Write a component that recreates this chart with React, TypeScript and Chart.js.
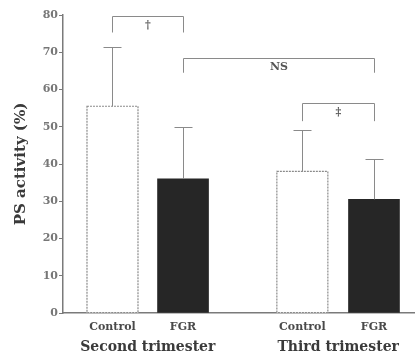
import React, { useEffect, useRef } from "react";
import { Chart, registerables } from "chart.js";

Chart.register(...registerables);

// ---- data ----
const categories = ["Control", "FGR", "Control", "FGR"];
const groups = ["Second trimester", "Third trimester"];
const means = [55.5, 36, 38, 30.5];
const sdUpper = [15.9, 14, 11.1, 10.8];
const yTickValues = [0, 10, 20, 30, 40, 50, 60, 70, 80];
// brackets: bar index from, to, top value, leg-end value, label
const bracketFrom = [0, 1, 2];
const bracketTo = [1, 3, 3];
const bracketTop = [79.6, 68.5, 56.5];
const bracketLegEnd = [75.3, 64.5, 51.5];
const bracketLabels = ["\u2020", "NS", "\u2021"];

// ---- layout (not data) ----
const barCenters = [1.406, 3.41, 6.8, 8.835];
const groupMembers = [[0, 1], [2, 3]];
const FONT = "'DejaVu Serif', serif";

const annotPlugin = {
  id: "annot",
  afterDatasetsDraw(chart: any) {
    const ctx = chart.ctx;
    const xs = chart.scales.x;
    const ys = chart.scales.y;
    const meta = chart.getDatasetMeta(0);
    ctx.save();
    // dashed borders on control bars
    meta.data.forEach((el: any, i: number) => {
      if (categories[i] !== "Control") return;
      const w = el.width;
      ctx.strokeStyle = "#8a8a8a";
      ctx.lineWidth = 1.2;
      ctx.setLineDash([2, 1]);
      ctx.strokeRect(el.x - w / 2, el.y, w, el.base - el.y);
    });
    ctx.setLineDash([]);
    // error bars
    ctx.strokeStyle = "#8a8a8a";
    ctx.lineWidth = 1;
    means.forEach((m, i) => {
      const px = Math.round(xs.getPixelForValue(barCenters[i])) + 0.5;
      const top = Math.round(ys.getPixelForValue(m + sdUpper[i])) + 0.5;
      const bot = ys.getPixelForValue(m);
      ctx.beginPath();
      ctx.moveTo(px, bot);
      ctx.lineTo(px, top);
      ctx.moveTo(px - 9, top);
      ctx.lineTo(px + 9, top);
      ctx.stroke();
    });
    // brackets
    bracketFrom.forEach((f, k) => {
      const x1 = Math.round(xs.getPixelForValue(barCenters[f])) + 0.5;
      const x2 = Math.round(xs.getPixelForValue(barCenters[bracketTo[k]])) + 0.5;
      const yt = Math.round(ys.getPixelForValue(bracketTop[k])) + 0.5;
      const yl = ys.getPixelForValue(bracketLegEnd[k]);
      ctx.strokeStyle = "#8a8a8a";
      ctx.lineWidth = 1;
      ctx.beginPath();
      ctx.moveTo(x1, yl);
      ctx.lineTo(x1, yt);
      ctx.lineTo(x2, yt);
      ctx.lineTo(x2, yl);
      ctx.stroke();
      ctx.fillStyle = "#555";
      ctx.font = "bold 11px " + FONT;
      ctx.textAlign = "center";
      ctx.textBaseline = "top";
      ctx.fillText(bracketLabels[k], (x1 + x2) / 2, yt + 3);
    });
    // group labels
    ctx.fillStyle = "#3a3a3a";
    ctx.font = "bold 14px " + FONT;
    ctx.textAlign = "center";
    ctx.textBaseline = "middle";
    groups.forEach((g, gi) => {
      const mem = groupMembers[gi];
      const cx = (xs.getPixelForValue(barCenters[mem[0]]) + xs.getPixelForValue(barCenters[mem[1]])) / 2;
      ctx.fillText(g, cx, 347);
    });
    ctx.restore();
  },
};

export default function App() {
  const ref = useRef<HTMLCanvasElement>(null);
  useEffect(() => {
    if (!ref.current) return;
    const chart = new Chart(ref.current, {
      type: "bar",
      data: {
        datasets: [
          {
            data: means.map((m, i) => ({ x: barCenters[i], y: m })) as any,
            backgroundColor: categories.map((c) => (c === "Control" ? "#ffffff" : "#262626")),
            borderWidth: 0,
            barThickness: 51,
          },
        ],
      },
      options: {
        animation: false,
        responsive: false,
        layout: { padding: { top: 15, right: 0, left: 0, bottom: 0 } },
        plugins: { legend: { display: false }, tooltip: { enabled: false } },
        scales: {
          x: {
            type: "linear",
            min: 0,
            max: 10,
            offset: false,
            grid: { display: false, drawTicks: false },
            border: { display: true, color: "#7a7a7a", width: 1.5 },
            afterBuildTicks: (s: any) => {
              s.ticks = barCenters.map((v) => ({ value: v }));
            },
            afterFit: (s: any) => {
              s.height = 42;
            },
            ticks: {
              autoSkip: false,
              maxRotation: 0,
              padding: 8,
              color: "#4a4a4a",
              font: { family: FONT, weight: "bold", size: 11 },
              callback: (_v: any, i: number) => categories[i],
            },
          },
          y: {
            min: 0,
            max: 80,
            afterBuildTicks: (s: any) => {
              s.ticks = yTickValues.map((v) => ({ value: v }));
            },
            afterFit: (s: any) => {
              s.width = 63;
            },
            grid: { drawOnChartArea: false, tickLength: 4, color: "#7a7a7a" },
            border: { color: "#7a7a7a", width: 1.5 },
            ticks: {
              padding: 1,
              color: "#777",
              font: { family: FONT, weight: "bold", size: 11 },
            },
            title: {
              display: true,
              text: "PS activity (%)",
              color: "#3a3a3a",
              padding: { top: 12, bottom: 0 },
              font: { family: FONT, weight: "bold", size: 15 },
            },
          },
        },
      },
      plugins: [annotPlugin],
    });
    return () => chart.destroy();
  }, []);
  return (
    <div style={{ position: "fixed", left: 0, top: 0, width: 415, height: 355, background: "#fff" }}>
      <canvas ref={ref} width={415} height={355} style={{ display: "block" }} />
    </div>
  );
}
